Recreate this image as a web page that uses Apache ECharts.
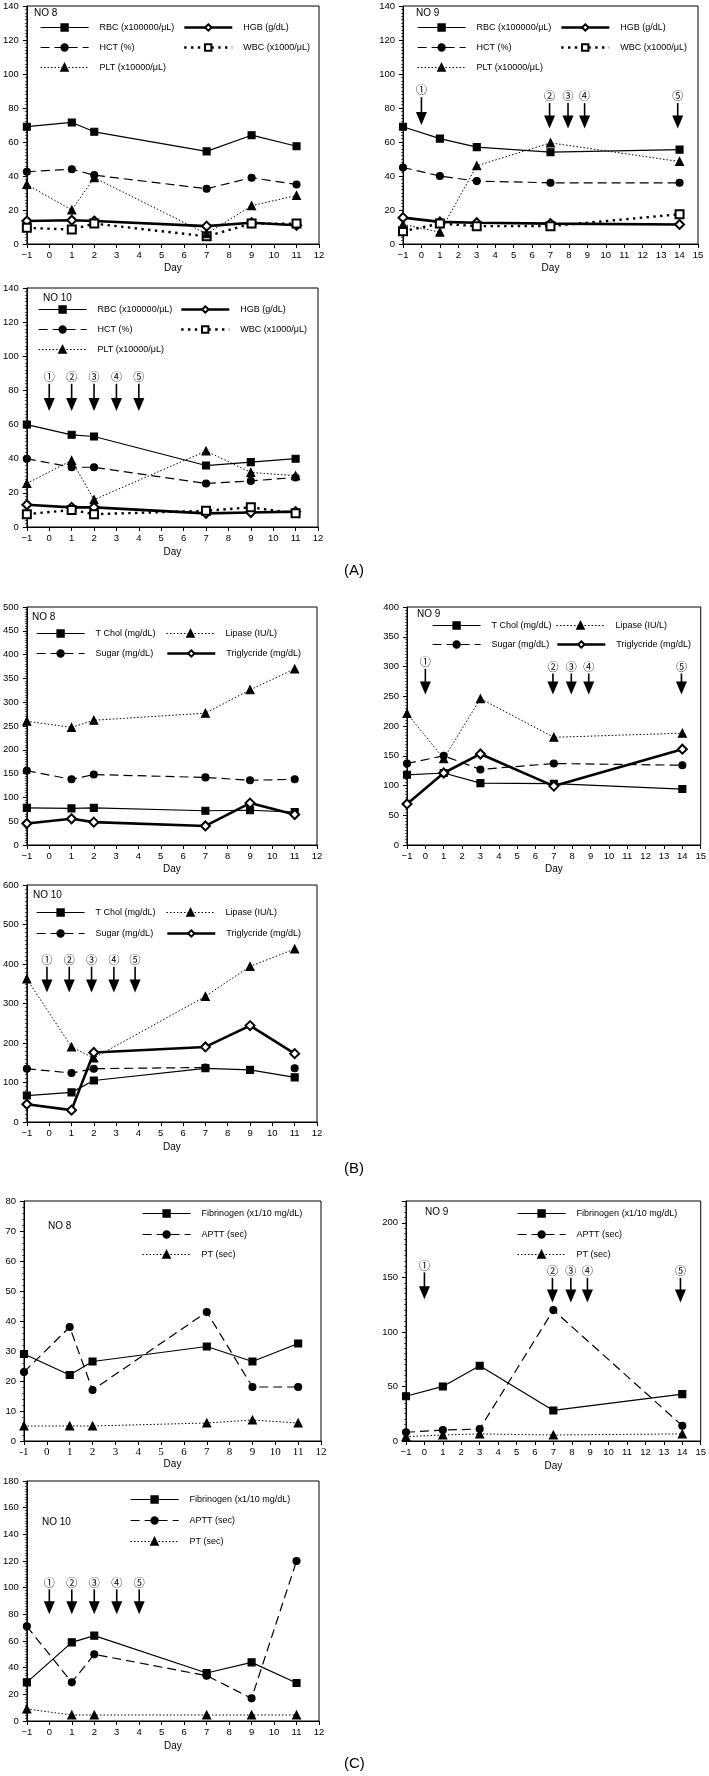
<!DOCTYPE html>
<html><head><meta charset="utf-8">
<script src="https://cdn.jsdelivr.net/npm/echarts@6/dist/echarts.min.js"></script>
<style>html,body{margin:0;padding:0;background:#fff}#c{width:709px;height:1776px}</style>
</head><body><div id="c"></div>
<script>
// ---------- DATA ----------
// Panel A (blood counts)
const daysA8 = [-1, 1, 2, 7, 9, 11];
const rbcA8 = [69, 71.5, 66, 54.5, 64, 57.5];
const hgbA8 = [13.5, 14, 13.5, 10.5, 12.5, 11];
const hctA8 = [42.5, 44, 40.5, 32.5, 39, 35];
const wbcA8 = [9.5, 8.5, 12, 4.5, 12, 12];
const pltA8 = [35, 20, 39, 6, 22.5, 28.5];

const daysA9 = [-1, 1, 3, 7, 14];
const rbcA9 = [69, 62, 57, 54, 55.5];
const hgbA9 = [15.5, 13, 12.5, 12, 11.5];
const hctA9 = [45, 40, 37, 36, 36];
const wbcA9 = [7.5, 12, 10.5, 10.5, 17.5];
const pltA9 = [11.5, 7, 46, 59.5, 48.5];

const daysA10 = [-1, 1, 2, 7, 9, 11];
const rbcA10 = [60, 54, 53, 36, 38, 40];
const hgbA10 = [13, 11.5, 11.5, 8, 8.5, 9];
const hctA10 = [40, 35, 35, 25.5, 27, 29];
const wbcA10 = [7.5, 10, 7.5, 9.5, 11.5, 8];
const pltA10 = [25.5, 39, 16, 44.5, 32, 30];

// Panel B (chemistry)
const daysB8 = [-1, 1, 2, 7, 9, 11];
const cholB8 = [78, 77, 78, 72, 73, 69];
const lipaseB8 = [260, 247, 262, 277, 326, 370];
const sugarB8 = [156, 138, 148, 142, 136, 138];
const trigB8 = [45, 55, 48, 40, 88, 64];

const daysB9 = [-1, 1, 3, 7, 14];
const cholB9 = [118, 121, 104, 103, 94];
const lipaseB9 = [221, 145, 246, 181, 188];
const sugarB9 = [137, 150, 127, 137, 134];
const trigB9 = [69, 121, 153, 99, 161];

const daysB10 = [-1, 1, 2, 7, 9, 11];
const cholB10 = [67, 75, 105, 136, 132, 113];
const lipaseB10 = [362, 190, 162, 318, 394, 438];
const sugarB10 = [135, 124, 135, 138, null, 136];
const trigB10 = [45, 30, 176, 190, 244, 173];

// Panel C (coagulation)
const daysC8 = [-1, 1, 2, 7, 9, 11];
const fibC8 = [29, 22, 26.5, 31.5, 26.5, 32.5];
const apttC8 = [23, 38, 17, 43, 18, 18];
const ptC8 = [5, 5, 5, 6, 7, 6];

const daysC9 = [-1, 1, 3, 7, 14];
const fibC9 = [41, 50, 69, 28, 43];
const apttC9 = [8, 10, 11, 120, 14];
const ptC9 = [4, 5.5, 6.5, 5.5, 6.5];

const daysC10 = [-1, 1, 2, 7, 9, 11];
const fibC10 = [29, 59, 64, 36, 44, 28.5];
const apttC10 = [71, 29, 50, 34, 17, 120];
const ptC10 = [9, 4.5, 4.5, 4.5, 4.5, 4.5];

// Treatment arrows ①..⑤ : day, label value, tip value
const arrowDaysA9 = [0, 6.95, 7.95, 8.85, 13.9];
const arrowLabA9 = [90.5, 87, 87, 87, 87];
const arrowTipA9 = [70, 68, 68, 68, 68];
const arrowDaysA10 = [0, 1, 2, 3, 4];
const arrowLabA10 = [88, 88, 88, 88, 88];
const arrowTipA10 = [68, 68, 68, 68, 68];
const arrowDaysB9 = [0, 6.95, 7.95, 8.9, 13.95];
const arrowLabB9 = [308, 300, 300, 300, 300];
const arrowTipB9 = [253, 253, 253, 253, 253];
const arrowDaysB10 = [-0.1, 0.9, 1.9, 2.9, 3.85];
const arrowLabB10 = [411, 411, 411, 411, 411];
const arrowTipB10 = [328, 328, 328, 328, 328];
const arrowDaysC9 = [0, 6.95, 7.95, 8.85, 13.9];
const arrowLabC9 = [161, 156, 156, 156, 156];
const arrowTipC9 = [130, 127, 127, 127, 127];
const arrowDaysC10 = [0, 1, 2, 3, 4];
const arrowLabC10 = [104, 104, 104, 104, 104];
const arrowTipC10 = [80, 80, 80, 80, 80];
const circled = ['①', '②', '③', '④', '⑤'];

const namesA = ['RBC (x100000/μL)', 'HGB (g/dL)', 'HCT (%)', 'WBC (x1000/μL)', 'PLT (x10000/μL)'];
const namesB = ['T Chol (mg/dL)', 'Lipase (IU/L)', 'Sugar (mg/dL)', 'Triglycride (mg/dL)'];
const namesC = ['Fibrinogen (x1/10 mg/dL)', 'APTT (sec)', 'PT (sec)'];

// ---------- STYLE / LAYOUT ----------
const FONT = '"Liberation Sans", Arial, sans-serif';
const SERIF = '"Liberation Serif", "Times New Roman", serif';
const STY = {
  sq:   {symbol: 'rect', size: 7, lw: 1.2, type: 'solid'},
  dia:  {symbol: 'emptyDiamond', size: 9, lw: 2.6, type: 'solid'},
  circ: {symbol: 'circle', size: 7, lw: 1.2, type: [9, 5]},
  esq:  {symbol: 'emptyRect', size: 8, lw: 2.4, type: [2.4, 4.4]},
  tri:  {symbol: 'triangle', size: 8, lw: 1, type: [1.5, 2]}
};
const stA = ['sq', 'dia', 'circ', 'esq', 'tri'];
const posA = [[0, 0], [1, 0], [0, 1], [1, 1], [0, 2]];
const stB = ['sq', 'tri', 'circ', 'dia'];
const posB = [[0, 0], [1, 0], [0, 1], [1, 1]];
const stC = ['sq', 'circ', 'tri'];
const posC = [[0, 0], [0, 1], [0, 2]];

const panels = [
  {g: [24, 6, 295, 238], xMax: 12, yMax: 140, yInt: 20, minor: 10, gap: 19, no: ['NO 8', 34, 14],
   days: daysA8, vals: [rbcA8, hgbA8, hctA8, wbcA8, pltA8], names: namesA, st: stA, pos: posA,
   cols: [40, 183], rows: [27, 47, 67]},
  {g: [403, 6, 295, 238], xMax: 15, yMax: 140, yInt: 20, minor: 10, gap: 19, no: ['NO 9', 416, 14],
   days: daysA9, vals: [rbcA9, hgbA9, hctA9, wbcA9, pltA9], names: namesA, st: stA, pos: posA,
   cols: [417, 560], rows: [27, 47, 67], arrows: [arrowDaysA9, arrowLabA9, arrowTipA9]},
  {g: [24, 288, 294, 239], xMax: 12, yMax: 140, yInt: 20, minor: 10, gap: 20, no: ['NO 10', 43, 299],
   days: daysA10, vals: [rbcA10, hgbA10, hctA10, wbcA10, pltA10], names: namesA, st: stA, pos: posA,
   cols: [38, 180], rows: [309, 329, 349], arrows: [arrowDaysA10, arrowLabA10, arrowTipA10]},
  {g: [23, 607, 294, 238], xMax: 12, yMax: 500, yInt: 50, minor: 10, gap: 19, no: ['NO 8', 32, 618],
   days: daysB8, vals: [cholB8, lipaseB8, sugarB8, trigB8], names: namesB, st: stB, pos: posB,
   cols: [36, 166], rows: [633, 653]},
  {g: [407, 607, 294, 238], xMax: 15, yMax: 400, yInt: 50, minor: 10, gap: 19, no: ['NO 9', 417, 615],
   days: daysB9, vals: [cholB9, lipaseB9, sugarB9, trigB9], names: namesB, st: stB, pos: posB,
   cols: [432, 556], rows: [625, 644], arrows: [arrowDaysB9, arrowLabB9, arrowTipB9]},
  {g: [23, 885, 294, 237], xMax: 12, yMax: 600, yInt: 100, minor: 10, gap: 20, no: ['NO 10', 33, 896],
   days: daysB10, vals: [cholB10, lipaseB10, sugarB10, trigB10], names: namesB, st: stB, pos: posB,
   cols: [36, 166], rows: [912, 933], arrows: [arrowDaysB10, arrowLabB10, arrowTipB10]},
  {g: [24, 1201, 297, 240], xMax: 12, yMax: 80, yInt: 10, minor: 5, gap: 17, serif: true, no: ['NO 8', 48, 1227],
   days: daysC8, vals: [fibC8, apttC8, ptC8], names: namesC, st: stC, pos: posC,
   cols: [142], rows: [1213, 1234, 1254]},
  {g: [406, 1201, 296, 240], xMax: 15, yMax: 220, yInt: 50, minor: 10, gap: 20, no: ['NO 9', 425, 1213],
   days: daysC9, vals: [fibC9, apttC9, ptC9], names: namesC, st: stC, pos: posC,
   cols: [517], rows: [1213, 1234, 1254], arrows: [arrowDaysC9, arrowLabC9, arrowTipC9]},
  {g: [23, 1481, 296, 240], xMax: 12, yMax: 180, yInt: 20, minor: 10, gap: 20, no: ['NO 10', 42, 1523],
   days: daysC10, vals: [fibC10, apttC10, ptC10], names: namesC, st: stC, pos: posC,
   cols: [130], rows: [1499, 1520, 1541], arrows: [arrowDaysC10, arrowLabC10, arrowTipC10]}
];

function arrowRender(params, api) {
  const x = api.value(0), lab = api.value(1), tip = api.value(2), k = api.value(3);
  const pL = api.coord([x, lab]);
  const pT = api.coord([x, tip]);
  return {type: 'group', children: [
    {type: 'text', style: {text: circled[k], x: pL[0], y: pL[1], align: 'center', verticalAlign: 'middle',
      font: '11px "Noto Sans CJK JP", "DejaVu Sans", sans-serif', fill: '#000'}},
    {type: 'line', shape: {x1: pL[0], y1: pL[1] + 7, x2: pT[0], y2: pT[1] - 12}, style: {stroke: '#000', lineWidth: 1.6}},
    {type: 'polygon', shape: {points: [[pT[0] - 5.5, pT[1] - 13], [pT[0] + 5.5, pT[1] - 13], [pT[0], pT[1]]]}, style: {fill: '#000'}}
  ]};
}

const option = {animation: false, backgroundColor: '#fff', grid: [], xAxis: [], yAxis: [], series: [], legend: [], graphic: []};

panels.forEach((p, i) => {
  option.grid.push({left: p.g[0], top: p.g[1], width: p.g[2], height: p.g[3], show: true,
    borderColor: '#000', borderWidth: 1, backgroundColor: 'rgba(0,0,0,0)'});
  option.xAxis.push({type: 'value', gridIndex: i, min: -1, max: p.xMax, interval: 1,
    name: 'Day', nameLocation: 'middle', nameGap: p.gap,
    nameTextStyle: {fontSize: 10, fontFamily: FONT, color: '#000'},
    axisLine: {show: true, onZero: false, lineStyle: {color: '#000', width: 1}},
    axisTick: {show: true, length: 4, lineStyle: {color: '#000'}},
    axisLabel: {fontSize: p.serif ? 11 : 9.5, fontFamily: p.serif ? SERIF : FONT, color: '#000', margin: 6,
      formatter: v => v < 0 ? (p.serif ? '-' : '−') + (-v) : String(v)},
    splitLine: {show: false}});
  option.yAxis.push({type: 'value', gridIndex: i, min: 0, max: p.yMax, interval: p.yInt,
    axisLine: {show: true, onZero: false, lineStyle: {color: '#000', width: 1}},
    axisTick: {show: true, length: 4, lineStyle: {color: '#000'}},
    minorTick: {show: true, splitNumber: p.minor, length: 2, lineStyle: {color: '#000', width: 0.6}},
    axisLabel: {fontSize: 9.5, fontFamily: FONT, color: '#000', margin: 8,
      formatter: v => (v % p.yInt === 0 ? String(v) : '')},
    splitLine: {show: false}, minorSplitLine: {show: false}});
  p.vals.forEach((vals, j) => {
    const s = STY[p.st[j]];
    option.series.push({type: 'line', name: p.names[j], xAxisIndex: i, yAxisIndex: i,
      data: p.days.map((d, k) => [d, vals[k]]), connectNulls: false,
      symbol: s.symbol, symbolSize: s.size, showAllSymbol: true,
      lineStyle: {color: '#000', width: s.lw, type: s.type},
      itemStyle: {color: '#000', borderColor: '#000', borderWidth: 1.1},
      emphasis: {disabled: true}, z: 3});
    const c = p.pos[j];
    option.legend.push({left: p.cols[c[0]], top: p.rows[c[1]] - 4, padding: 0, itemGap: 0,
      itemWidth: 48, itemHeight: 8, selectedMode: false, data: [p.names[j]],
      lineStyle: {width: s.lw},
      textStyle: {fontSize: 9, fontFamily: FONT, color: '#000', padding: [0, 0, 0, 6]}});
  });
  if (p.arrows) {
    const [ad, al, at] = p.arrows;
    option.series.push({type: 'custom', xAxisIndex: i, yAxisIndex: i, silent: true, clip: false, z: 5,
      data: ad.map((d, k) => [d, al[k], at[k], k]), renderItem: arrowRender});
  }
  option.graphic.push({type: 'text', left: p.no[1], top: p.no[2] - 6,
    style: {text: p.no[0], font: '10px ' + FONT, fill: '#000'}});
});
[['(A)', 572], ['(B)', 1170], ['(C)', 1765]].forEach(t => {
  option.graphic.push({type: 'text', left: 344, top: t[1] - 9, style: {text: t[0], font: '15px ' + FONT, fill: '#000'}});
});

const chart = echarts.init(document.getElementById('c'), null, {renderer: 'canvas'});
chart.setOption(option);
</script>
</body></html>
